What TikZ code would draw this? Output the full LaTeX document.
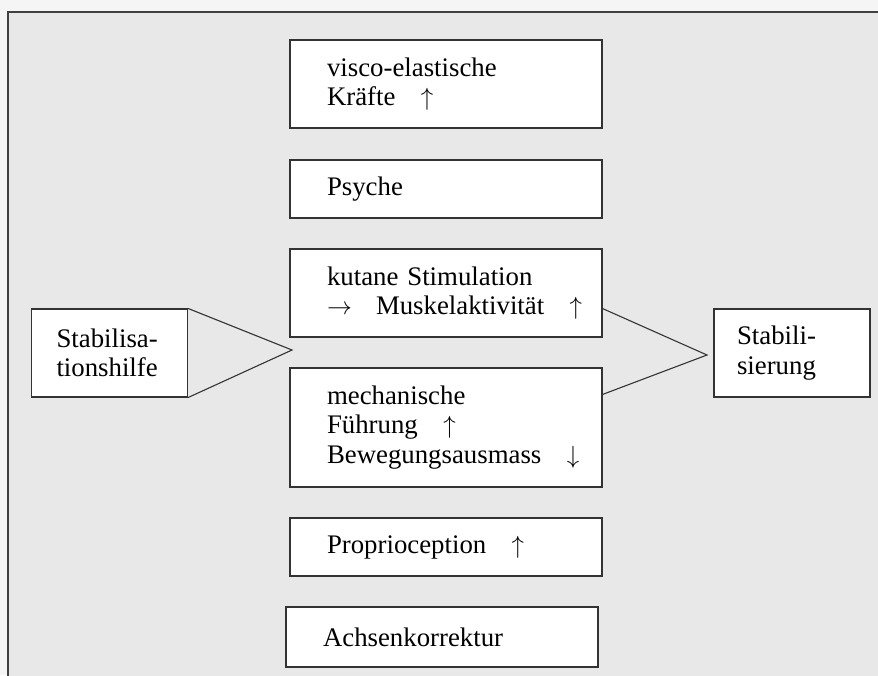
\documentclass[tikz,border=0pt]{standalone}
\usepackage{fontspec}
\setmainfont{Liberation Serif}
\newcommand{\hoch}{\rlap{\hspace{0.95em}$\uparrow$}}
\newcommand{\tief}{\rlap{\hspace{0.95em}$\downarrow$}}
\begin{document}
\begin{tikzpicture}[
        x=1pt, y=-1pt,
        box/.style={rectangle, draw=black!80, fill=white, line width=1.1pt, align=left, text width=238pt, inner xsep=37pt, inner ysep=0pt, minimum width=312pt, font=\fontsize{26.8}{29.5}\selectfont},
        sidebox/.style={box, text width=106pt, inner xsep=25pt, minimum width=156pt, minimum height=88pt},
        wedge/.style={draw=black!80, line width=1.1pt}
    ]
    \clip (0,0) rectangle (878,675);
    \fill[black!4] (0,0) rectangle (878,675);
    \draw[line width=1.6pt, draw=black!75, fill=black!9] (8,12) rectangle (900,700);

    % Middle column
    \node[box, minimum height=88pt] (visco) at (446,84) {visco-elastische\\Kräfte\hoch};
    \node[box, minimum height=58pt] (psyche) at (446,189) {Psyche};
    \node[box, minimum height=88pt] (kutane) at (446,293) {kutane Stimulation\\$\rightarrow$\hspace{0.9em}Muskelaktivität\hoch};
    \node[box, minimum height=119pt] (mech) at (446,427.5) {mechanische\\Führung\hoch\\Bewegungsausmass\tief};
    \node[box, minimum height=58pt] (proprio) at (446,547) {Proprioception\hoch};
    \node[box, minimum height=60pt] (achse) at (442,637) {Achsenkorrektur};

    % Left and right
    \node[sidebox] (hilfe) at (109.5,353) {Stabilisa-\\tionshilfe};
    \node[sidebox, inner xsep=23pt, text width=110pt] (stabil) at (792,353) {Stabili-\\sierung};

    \coordinate (lefttip) at (292,350);
    \coordinate (righttip) at (707,355);
    \draw[wedge] (hilfe.north east) -- (lefttip) -- (hilfe.south east);
    \draw[wedge] ([yshift=29pt]kutane.south east) -- (righttip) -- ([yshift=-27pt]mech.north east);
\end{tikzpicture}
\end{document}
